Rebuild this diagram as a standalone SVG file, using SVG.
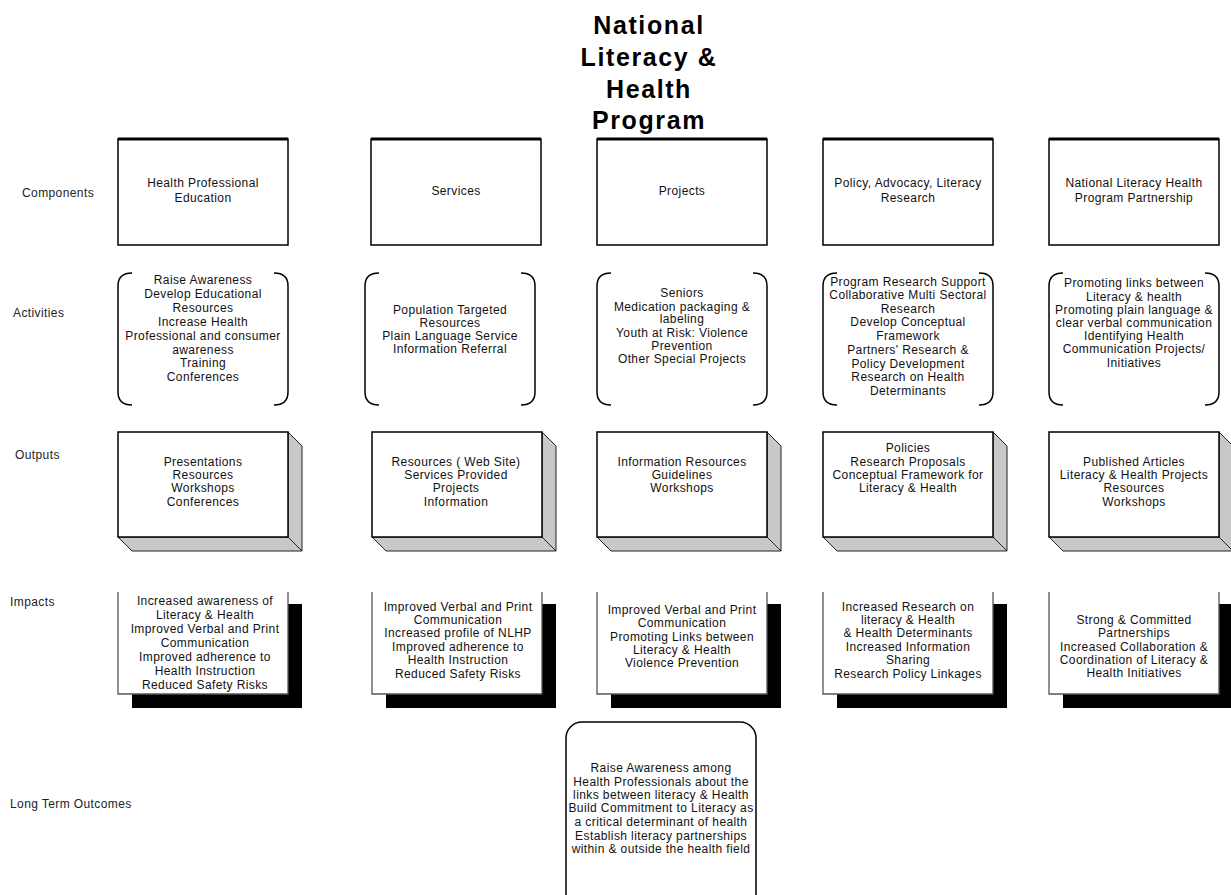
<svg xmlns="http://www.w3.org/2000/svg" width="1231" height="895" viewBox="0 0 1231 895">
<style>
.t{font-family:"Liberation Sans",Arial,sans-serif;font-size:12px;letter-spacing:0.4px;text-anchor:middle;fill:#111}
.lbl{font-family:"Liberation Sans",Arial,sans-serif;font-size:12px;letter-spacing:0.4px;fill:#222}
.title{font-family:"Liberation Sans",Arial,sans-serif;font-size:25px;font-weight:bold;letter-spacing:1.6px;text-anchor:middle;fill:#000}
.box{fill:#fff;stroke:#000;stroke-width:1.5}
.top{stroke:#000;stroke-width:3}
.brk{fill:none;stroke:#000;stroke-width:1.5}
.bev{fill:#c8c8c8;stroke:#222;stroke-width:1}
.shd{fill:#000}
.face{fill:#fff;stroke:none}
.edge{fill:none;stroke:#555;stroke-width:1.3}
</style>
<rect width="1231" height="895" fill="#fff"/>

<g id="title">
<text class="title" x="649" y="34">National</text>
<text class="title" x="649" y="66">Literacy &amp;</text>
<text class="title" x="649" y="98">Health</text>
<text class="title" x="649" y="129">Program</text>
</g>

<g id="row-labels">
<text class="lbl" x="22" y="197">Components</text>
<text class="lbl" x="13" y="317">Activities</text>
<text class="lbl" x="15" y="459">Outputs</text>
<text class="lbl" x="10" y="606">Impacts</text>
<text class="lbl" x="10" y="808">Long Term Outcomes</text>
</g>

<!-- Components -->
<g id="comp1"><rect class="box" x="118" y="139" width="170" height="106"/><line class="top" x1="118" y1="139" x2="288" y2="139"/>
<text class="t" x="203" y="187">Health Professional</text><text class="t" x="203" y="202">Education</text></g>
<g id="comp2"><rect class="box" x="371" y="139" width="170" height="106"/><line class="top" x1="371" y1="139" x2="541" y2="139"/>
<text class="t" x="456" y="195">Services</text></g>
<g id="comp3"><rect class="box" x="597" y="139" width="170" height="106"/><line class="top" x1="597" y1="139" x2="767" y2="139"/>
<text class="t" x="682" y="195">Projects</text></g>
<g id="comp4"><rect class="box" x="823" y="139" width="170" height="106"/><line class="top" x1="823" y1="139" x2="993" y2="139"/>
<text class="t" x="908" y="187">Policy, Advocacy, Literacy</text><text class="t" x="908" y="202">Research</text></g>
<g id="comp5"><rect class="box" x="1049" y="139" width="170" height="106"/><line class="top" x1="1049" y1="139" x2="1219" y2="139"/>
<text class="t" x="1134" y="187">National Literacy Health</text><text class="t" x="1134" y="202">Program Partnership</text></g>

<!-- Activities -->
<g id="act1"><path class="brk" d="M132 273 Q118 273 118 286 V392 Q118 405 132 405 M274 273 Q288 273 288 286 V392 Q288 405 274 405"/>
<text class="t" x="203" y="284">Raise Awareness</text>
<text class="t" x="203" y="298">Develop Educational</text>
<text class="t" x="203" y="312">Resources</text>
<text class="t" x="203" y="326">Increase Health</text>
<text class="t" x="203" y="340">Professional and consumer</text>
<text class="t" x="203" y="354">awareness</text>
<text class="t" x="203" y="367">Training</text>
<text class="t" x="203" y="381">Conferences</text></g>
<g id="act2"><path class="brk" d="M379 273 Q365 273 365 286 V392 Q365 405 379 405 M521 273 Q535 273 535 286 V392 Q535 405 521 405"/>
<text class="t" x="450" y="314">Population Targeted</text>
<text class="t" x="450" y="327">Resources</text>
<text class="t" x="450" y="340">Plain Language Service</text>
<text class="t" x="450" y="353">Information Referral</text></g>
<g id="act3"><path class="brk" d="M611 273 Q597 273 597 286 V392 Q597 405 611 405 M753 273 Q767 273 767 286 V392 Q767 405 753 405"/>
<text class="t" x="682" y="297">Seniors</text>
<text class="t" x="682" y="311">Medication packaging &amp;</text>
<text class="t" x="682" y="323">labeling</text>
<text class="t" x="682" y="337">Youth at Risk: Violence</text>
<text class="t" x="682" y="350">Prevention</text>
<text class="t" x="682" y="363">Other Special Projects</text></g>
<g id="act4"><path class="brk" d="M837 273 Q823 273 823 286 V392 Q823 405 837 405 M979 273 Q993 273 993 286 V392 Q993 405 979 405"/>
<text class="t" x="908" y="286">Program Research Support</text>
<text class="t" x="908" y="299">Collaborative Multi Sectoral</text>
<text class="t" x="908" y="313">Research</text>
<text class="t" x="908" y="326">Develop Conceptual</text>
<text class="t" x="908" y="340">Framework</text>
<text class="t" x="908" y="354">Partners' Research &amp;</text>
<text class="t" x="908" y="368">Policy Development</text>
<text class="t" x="908" y="381">Research on Health</text>
<text class="t" x="908" y="395">Determinants</text></g>
<g id="act5"><path class="brk" d="M1063 273 Q1049 273 1049 286 V392 Q1049 405 1063 405 M1205 273 Q1219 273 1219 286 V392 Q1219 405 1205 405"/>
<text class="t" x="1134" y="287">Promoting links between</text>
<text class="t" x="1134" y="301">Literacy &amp; health</text>
<text class="t" x="1134" y="314">Promoting plain language &amp;</text>
<text class="t" x="1134" y="327">clear verbal communication</text>
<text class="t" x="1134" y="340">Identifying Health</text>
<text class="t" x="1134" y="353">Communication Projects/</text>
<text class="t" x="1134" y="367">Initiatives</text></g>

<!-- Outputs -->
<g id="out1"><polygon class="bev" points="288,432 302,446 302,551 132,551 118,537 288,537"/><line class="bev" x1="288" y1="537" x2="302" y2="551"/><rect class="box" x="118" y="432" width="170" height="105"/>
<text class="t" x="203" y="466">Presentations</text>
<text class="t" x="203" y="479">Resources</text>
<text class="t" x="203" y="492">Workshops</text>
<text class="t" x="203" y="506">Conferences</text></g>
<g id="out2"><polygon class="bev" points="542,432 556,446 556,551 386,551 372,537 542,537"/><line class="bev" x1="542" y1="537" x2="556" y2="551"/><rect class="box" x="372" y="432" width="170" height="105"/>
<text class="t" x="456" y="466">Resources ( Web Site)</text>
<text class="t" x="456" y="479">Services Provided</text>
<text class="t" x="456" y="492">Projects</text>
<text class="t" x="456" y="506">Information</text></g>
<g id="out3"><polygon class="bev" points="767,432 781,446 781,551 611,551 597,537 767,537"/><line class="bev" x1="767" y1="537" x2="781" y2="551"/><rect class="box" x="597" y="432" width="170" height="105"/>
<text class="t" x="682" y="466">Information Resources</text>
<text class="t" x="682" y="479">Guidelines</text>
<text class="t" x="682" y="492">Workshops</text></g>
<g id="out4"><polygon class="bev" points="993,432 1007,446 1007,551 837,551 823,537 993,537"/><line class="bev" x1="993" y1="537" x2="1007" y2="551"/><rect class="box" x="823" y="432" width="170" height="105"/>
<text class="t" x="908" y="452">Policies</text>
<text class="t" x="908" y="466">Research Proposals</text>
<text class="t" x="908" y="479">Conceptual Framework for</text>
<text class="t" x="908" y="492">Literacy &amp; Health</text></g>
<g id="out5"><polygon class="bev" points="1219,432 1233,446 1233,551 1063,551 1049,537 1219,537"/><line class="bev" x1="1219" y1="537" x2="1233" y2="551"/><rect class="box" x="1049" y="432" width="170" height="105"/>
<text class="t" x="1134" y="466">Published Articles</text>
<text class="t" x="1134" y="479">Literacy &amp; Health Projects</text>
<text class="t" x="1134" y="492">Resources</text>
<text class="t" x="1134" y="506">Workshops</text></g>

<!-- Impacts -->
<g id="imp1"><rect class="shd" x="132" y="604" width="170" height="104"/><rect class="face" x="118" y="592" width="170" height="102"/><path class="edge" d="M118 592 V694 H288 V592"/>
<text class="t" x="205" y="605">Increased awareness of</text>
<text class="t" x="205" y="619">Literacy &amp; Health</text>
<text class="t" x="205" y="633">Improved Verbal and Print</text>
<text class="t" x="205" y="647">Communication</text>
<text class="t" x="205" y="661">Improved adherence to</text>
<text class="t" x="205" y="675">Health Instruction</text>
<text class="t" x="205" y="689">Reduced Safety Risks</text></g>
<g id="imp2"><rect class="shd" x="386" y="604" width="170" height="104"/><rect class="face" x="372" y="592" width="170" height="102"/><path class="edge" d="M372 592 V694 H542 V592"/>
<text class="t" x="458" y="611">Improved Verbal and Print</text>
<text class="t" x="458" y="624">Communication</text>
<text class="t" x="458" y="637">Increased profile of NLHP</text>
<text class="t" x="458" y="651">Improved adherence to</text>
<text class="t" x="458" y="664">Health Instruction</text>
<text class="t" x="458" y="678">Reduced Safety Risks</text></g>
<g id="imp3"><rect class="shd" x="611" y="604" width="170" height="104"/><rect class="face" x="597" y="592" width="170" height="102"/><path class="edge" d="M597 592 V694 H767 V592"/>
<text class="t" x="682" y="614">Improved Verbal and Print</text>
<text class="t" x="682" y="627">Communication</text>
<text class="t" x="682" y="641">Promoting Links between</text>
<text class="t" x="682" y="654">Literacy &amp; Health</text>
<text class="t" x="682" y="667">Violence Prevention</text></g>
<g id="imp4"><rect class="shd" x="837" y="604" width="170" height="104"/><rect class="face" x="823" y="592" width="170" height="102"/><path class="edge" d="M823 592 V694 H993 V592"/>
<text class="t" x="908" y="611">Increased Research on</text>
<text class="t" x="908" y="624">literacy &amp; Health</text>
<text class="t" x="908" y="637">&amp; Health Determinants</text>
<text class="t" x="908" y="651">Increased Information</text>
<text class="t" x="908" y="664">Sharing</text>
<text class="t" x="908" y="678">Research Policy Linkages</text></g>
<g id="imp5"><rect class="shd" x="1063" y="604" width="170" height="104"/><rect class="face" x="1049" y="592" width="170" height="102"/><path class="edge" d="M1049 592 V694 H1219 V592"/>
<text class="t" x="1134" y="624">Strong &amp; Committed</text>
<text class="t" x="1134" y="637">Partnerships</text>
<text class="t" x="1134" y="651">Increased Collaboration &amp;</text>
<text class="t" x="1134" y="664">Coordination of Literacy &amp;</text>
<text class="t" x="1134" y="677">Health Initiatives</text></g>

<!-- Long term outcome -->
<g id="lto"><rect class="box" x="566" y="722" width="190" height="200" rx="16"/>
<text class="t" x="661" y="772">Raise Awareness among</text>
<text class="t" x="661" y="786">Health Professionals about the</text>
<text class="t" x="661" y="799">links between literacy &amp; Health</text>
<text class="t" x="661" y="812">Build Commitment to Literacy as</text>
<text class="t" x="661" y="826">a critical determinant of health</text>
<text class="t" x="661" y="840">Establish literacy partnerships</text>
<text class="t" x="661" y="853">within &amp; outside the health field</text></g>
</svg>
